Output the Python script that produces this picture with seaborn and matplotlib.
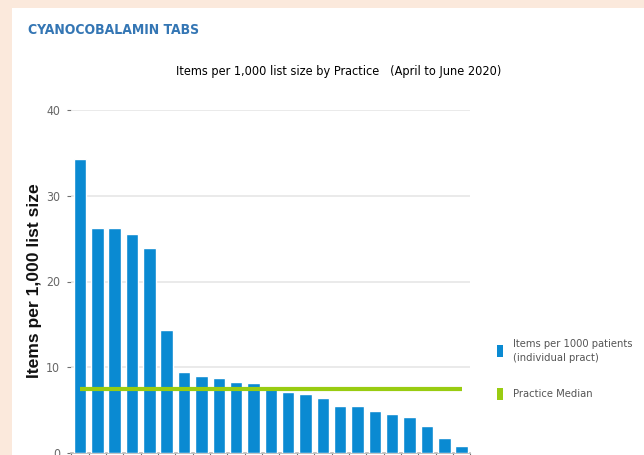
import numpy as np
import pandas as pd
import matplotlib
matplotlib.use("Agg")
import matplotlib.pyplot as plt
from matplotlib.patches import Rectangle
import seaborn as sns

# Items per 1,000 list size, one value per practice (sorted high to low)
practices = [f"P{i:02d}" for i in range(1, 24)]
items_per_1000 = [34.3, 26.3, 26.2, 25.6, 23.9, 14.3, 9.4, 9.0, 8.7, 8.3,
                  8.1, 7.5, 7.1, 6.9, 6.4, 5.4, 5.4, 4.9, 4.5, 4.2,
                  3.1, 1.75, 0.8]
y_ticks = [0, 10, 20, 30, 40]

sns.set_theme(style="white")
plt.rcParams["font.family"] = ["DejaVu Sans"]
plt.rcParams["font.stretch"] = "condensed"

BG = "#FBE9DC"
BAR = "#0A8AD2"
MEDIAN = "#99CC11"
GRID = "#E6E6E6"
TICK = "#707070"

W, H = 644, 455
fig = plt.figure(figsize=(W / 100, H / 100), dpi=100)
fig.patch.set_facecolor(BG)
fig.add_artist(Rectangle((12 / W, 0), 1 - 12 / W, (H - 8) / H,
                         transform=fig.transFigure, facecolor="white",
                         edgecolor="none", zorder=0))

ax = fig.add_axes([71.3 / W, 2.3 / H, 399 / W, 342.4 / H])
ax.set_facecolor("none")

df = pd.DataFrame({"Practice": practices, "Items": items_per_1000})
sns.barplot(data=df, x="Practice", y="Items", order=practices, color=BAR,
            saturation=1, width=0.72, ax=ax, zorder=3)

median = float(np.median(items_per_1000))
ax.plot([0, len(practices) - 1], [median, median], color=MEDIAN, lw=3,
        zorder=4, solid_capstyle="butt")

ax.set_xlim(-0.5, len(practices) - 0.5)
ax.set_ylim(0, 40)
ax.set_yticks(y_ticks)
ax.set_yticklabels([str(t) for t in y_ticks])
for t in y_ticks[1:]:
    ax.axhline(t, color=GRID, lw=1.2, zorder=1)

ax.set_xticks(np.arange(len(practices) + 1) - 0.5)
ax.set_xticklabels([])
ax.tick_params(axis="x", bottom=True, length=3, width=0.8, color=TICK)
ax.tick_params(axis="y", left=True, length=3, width=0.8, color=TICK,
               pad=5, labelsize=8.8, labelcolor="#666666")
for s in ["top", "right", "left"]:
    ax.spines[s].set_visible(False)
ax.spines["bottom"].set_color("#BBBBBB")
ax.set_xlabel("")
ax.set_ylabel("Items per 1,000 list size", fontsize=12.6, fontweight="bold",
              color="#111111", family=["Liberation Sans", "DejaVu Sans"],
              fontstretch="normal")
ax.yaxis.set_label_coords((34 - 71.3) / 399, (452.7 - 281) / 342.4)
ax.yaxis.label.set_verticalalignment("center")

fig.text(28 / W, 1 - 30 / H, "CYANOCOBALAMIN TABS", fontsize=10,
         fontweight="bold", color="#3476B4", va="center", ha="left")
fig.text(339 / W, 1 - 72 / H,
         "Items per 1,000 list size by Practice   (April to June 2020)",
         fontsize=9.1, color="black", va="center", ha="center")

fig.add_artist(Rectangle((497 / W, 1 - 357 / H), 6 / W, 12 / H,
                         transform=fig.transFigure, facecolor=BAR,
                         edgecolor="none"))
fig.add_artist(Rectangle((497 / W, 1 - 400 / H), 6 / W, 12 / H,
                         transform=fig.transFigure, facecolor=MEDIAN,
                         edgecolor="none"))
fig.text(513 / W, 1 - 351 / H, "Items per 1000 patients\n(individual pract)",
         fontsize=8.0, color="#555555", va="center", ha="left",
         linespacing=1.4)
fig.text(513 / W, 1 - 394 / H, "Practice Median", fontsize=8.0,
         color="#555555", va="center", ha="left")

fig.savefig("out.png", dpi=100, facecolor=BG)
